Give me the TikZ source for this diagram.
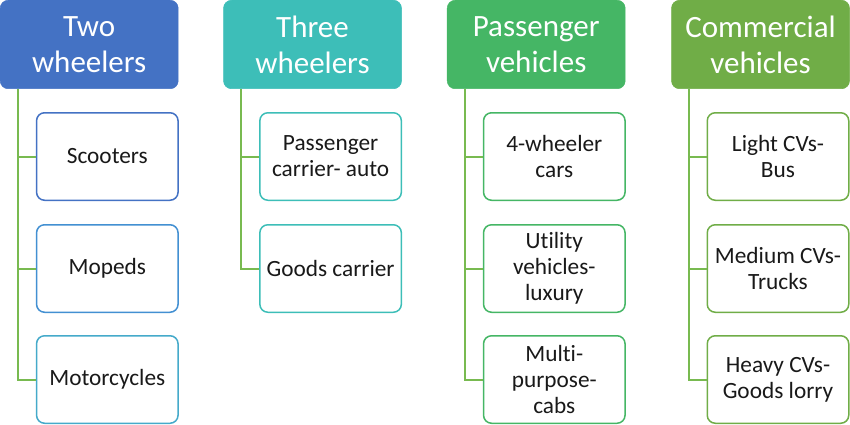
\documentclass[tikz,border=0pt]{standalone}
\usepackage{fontspec}
\setmainfont{Carlito}[Ligatures=NoCommon]
\definecolor{hblue}{HTML}{4472C4}
\definecolor{hteal}{HTML}{3DBEB8}
\definecolor{hgreen}{HTML}{45B665}
\definecolor{hlime}{HTML}{70AD47}
\definecolor{cblue1}{HTML}{4472C4}
\definecolor{cblue2}{HTML}{4390D2}
\definecolor{cblue3}{HTML}{45AACA}
\definecolor{conn}{HTML}{78BA50}
\tikzset{
  head/.style={fill=#1, draw=#1, line width=0.5pt, rounded corners=8pt, minimum width=178pt, minimum height=88.5pt, inner sep=0pt, align=center, text=white, font=\fontsize{31}{36}\selectfont},
  child/.style={fill=white, draw=#1, line width=1.5pt, rounded corners=8pt, minimum width=141.5pt, minimum height=87.5pt, inner sep=0pt, align=center, text=black!90, font=\fontsize{23.3}{26}\selectfont},
  connline/.style={draw=conn, line width=2pt},
}
\begin{document}
\begin{tikzpicture}[x=1pt,y=1pt]
\useasboundingbox (0,0) rectangle (850,-425);
% headers
\node[head=hblue]  (h1) at (89.2,-44.5)  {Two\\wheelers};
\node[head=hteal]  (h2) at (312.5,-44.5) {Three\\wheelers};
\node[head=hgreen] (h3) at (536.2,-44.5) {Passenger\\vehicles};
\node[head=hlime]  (h4) at (760.5,-44.5) {Commercial\\vehicles};
% children column 1
\node[child=cblue1] (c11) at (107.3,-156.5) {Scooters};
\node[child=cblue2] (c12) at (107.3,-268.5) {Mopeds};
\node[child=cblue3] (c13) at (107.3,-379.5) {Motorcycles};
% column 2
\node[child=hteal] (c21) at (330.6,-156.5) {Passenger\\carrier- auto};
\node[child=hteal] (c22) at (330.6,-268.5) {Goods carrier};
% column 3
\node[child=hgreen] (c31) at (554.3,-156.5) {4-wheeler\\cars};
\node[child=hgreen] (c32) at (554.3,-268.5) {Utility\\vehicles-\\luxury};
\node[child=hgreen] (c33) at (554.3,-379.5) {Multi-\\purpose-\\cabs};
% column 4
\node[child=hlime] (c41) at (778,-156.5) {Light CVs-\\Bus};
\node[child=hlime] (c42) at (778,-268.5) {Medium CVs-\\Trucks};
\node[child=hlime] (c43) at (778,-379.5) {Heavy CVs-\\Goods lorry};
% connector trunk tops
\coordinate (t1) at (18,-89);
\coordinate (t2) at (241.3,-89);
\coordinate (t3) at (464.8,-89);
\coordinate (t4) at (688.5,-89);
\draw[connline] (t1) |- (c11.west);
\draw[connline] (t1) |- (c12.west);
\draw[connline] (t1) |- (c13.west);
\draw[connline] (t2) |- (c21.west);
\draw[connline] (t2) |- (c22.west);
\draw[connline] (t3) |- (c31.west);
\draw[connline] (t3) |- (c32.west);
\draw[connline] (t3) |- (c33.west);
\draw[connline] (t4) |- (c41.west);
\draw[connline] (t4) |- (c42.west);
\draw[connline] (t4) |- (c43.west);
\end{tikzpicture}
\end{document}
